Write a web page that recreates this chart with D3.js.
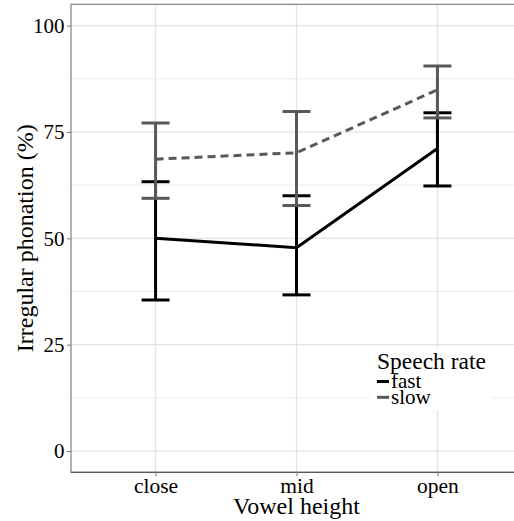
<!DOCTYPE html>
<html><head><meta charset="utf-8">
<script src="https://cdn.jsdelivr.net/npm/d3@7"></script>
<style>body{margin:0;background:#fff}svg{display:block}</style>
</head><body>
<svg id="chart" width="514" height="521"></svg>
<script>
const categories = ["close", "mid", "open"];
const yTicks = [0, 25, 50, 75, 100];
const yMinor = [12.5, 37.5, 62.5, 87.5];
const fastMean = [50.0, 47.8, 71.1];
const fastLow = [35.5, 36.7, 62.3];
const fastHigh = [63.3, 60.0, 79.5];
const slowMean = [68.6, 70.1, 84.9];
const slowLow = [59.4, 57.7, 78.3];
const slowHigh = [77.1, 79.8, 90.5];
const seriesNames = ["fast", "slow"];
const seriesColors = ["#000000", "#595959"];

(function () {
const series = [
  {name: seriesNames[0], color: seriesColors[0], dash: null, mean: fastMean, lo: fastLow, hi: fastHigh},
  {name: seriesNames[1], color: seriesColors[1], dash: "8,5", mean: slowMean, lo: slowLow, hi: slowHigh}
];

const svg = d3.select("#chart");
const font = "'Liberation Serif', 'Times New Roman', serif";
const pL = 71, pR = 522, pT = 4.3, pB = 472.3;

const x = d3.scalePoint().domain(categories).range([pL, pR]).padding(0.6);
const y = d3.scaleLinear().domain([-5, 105]).range([pB, pT]);

// grid
const g = svg.append("g");
g.selectAll(".minor").data(yMinor).join("line")
  .attr("x1", pL).attr("x2", pR).attr("y1", d => y(d)).attr("y2", d => y(d))
  .attr("stroke", "#ebebeb").attr("stroke-width", 1);
g.selectAll(".major").data(yTicks).join("line")
  .attr("x1", pL).attr("x2", pR).attr("y1", d => y(d)).attr("y2", d => y(d))
  .attr("stroke", "#e3e3e3").attr("stroke-width", 1.3);
g.selectAll(".vmajor").data(categories).join("line")
  .attr("x1", d => x(d)).attr("x2", d => x(d)).attr("y1", pT).attr("y2", pB)
  .attr("stroke", "#e3e3e3").attr("stroke-width", 1.3);

// legend background (covers grid)
svg.append("rect").attr("x", 370).attr("y", 348).attr("width", 122).attr("height", 62).attr("fill", "#fff");

// series
const cap = 14;
series.forEach(s => {
  const sg = svg.append("g");
  sg.selectAll("line.eb").data(categories).join("line")
    .attr("x1", d => x(d)).attr("x2", d => x(d))
    .attr("y1", (d, i) => y(s.lo[i])).attr("y2", (d, i) => y(s.hi[i]))
    .attr("stroke", s.color).attr("stroke-width", 3);
  sg.selectAll("line.hi").data(categories).join("line")
    .attr("x1", d => x(d) - cap).attr("x2", d => x(d) + cap)
    .attr("y1", (d, i) => y(s.hi[i])).attr("y2", (d, i) => y(s.hi[i]))
    .attr("stroke", s.color).attr("stroke-width", 3);
  sg.selectAll("line.lo").data(categories).join("line")
    .attr("x1", d => x(d) - cap).attr("x2", d => x(d) + cap)
    .attr("y1", (d, i) => y(s.lo[i])).attr("y2", (d, i) => y(s.lo[i]))
    .attr("stroke", s.color).attr("stroke-width", 3);
  const line = d3.line().x((d, i) => x(categories[i])).y(d => y(d));
  sg.append("path").datum(s.mean).attr("d", line)
    .attr("fill", "none").attr("stroke", s.color).attr("stroke-width", 3)
    .attr("stroke-dasharray", s.dash);
});

// panel border
svg.append("rect").attr("x", pL).attr("y", pT).attr("width", pR - pL).attr("height", pB - pT)
  .attr("fill", "none").attr("stroke", "#808080").attr("stroke-width", 1.2);
svg.append("line").attr("x1", pL).attr("x2", pR).attr("y1", pB).attr("y2", pB)
  .attr("stroke", "#595959").attr("stroke-width", 1.3);

// axes
const yAxis = svg.append("g").attr("transform", `translate(${pL},0)`)
  .call(d3.axisLeft(y).tickValues(yTicks).tickSize(4).tickPadding(2.5));
const xAxis = svg.append("g").attr("transform", `translate(0,${pB})`)
  .call(d3.axisBottom(x).tickSize(4).tickPadding(3));
[yAxis, xAxis].forEach(a => {
  a.select(".domain").remove();
  a.selectAll(".tick line").attr("stroke", "#808080").attr("stroke-width", 1.1);
  a.selectAll(".tick text").attr("fill", "#000").style("font-family", font).style("font-size", "21px");
});
xAxis.selectAll(".tick text").style("font-size", "21.5px").attr("y", 20.4).attr("dy", 0);

// axis titles
svg.append("text").attr("x", (pL + pR) / 2).attr("y", 513.5)
  .attr("text-anchor", "middle").style("font-family", font).style("font-size", "24px")
  .text("Vowel height");
svg.append("text").attr("transform", `translate(32.5,${(pT + pB) / 2}) rotate(-90)`)
  .attr("text-anchor", "middle").style("font-family", font).style("font-size", "24px")
  .text("Irregular phonation (%)");

// legend
const lg = svg.append("g");
lg.append("text").attr("x", 377).attr("y", 368.5).style("font-family", font).style("font-size", "23.5px")
  .text("Speech rate");
series.forEach((s, i) => {
  const yy = 381.5 + i * 15.8;
  lg.append("line").attr("x1", 377).attr("x2", 389).attr("y1", yy).attr("y2", yy)
    .attr("stroke", s.color).attr("stroke-width", 3);
  lg.append("text").attr("x", 391).attr("y", yy + 6.5).style("font-family", font).style("font-size", "21px")
    .text(s.name);
});
})();
</script>
</body></html>
